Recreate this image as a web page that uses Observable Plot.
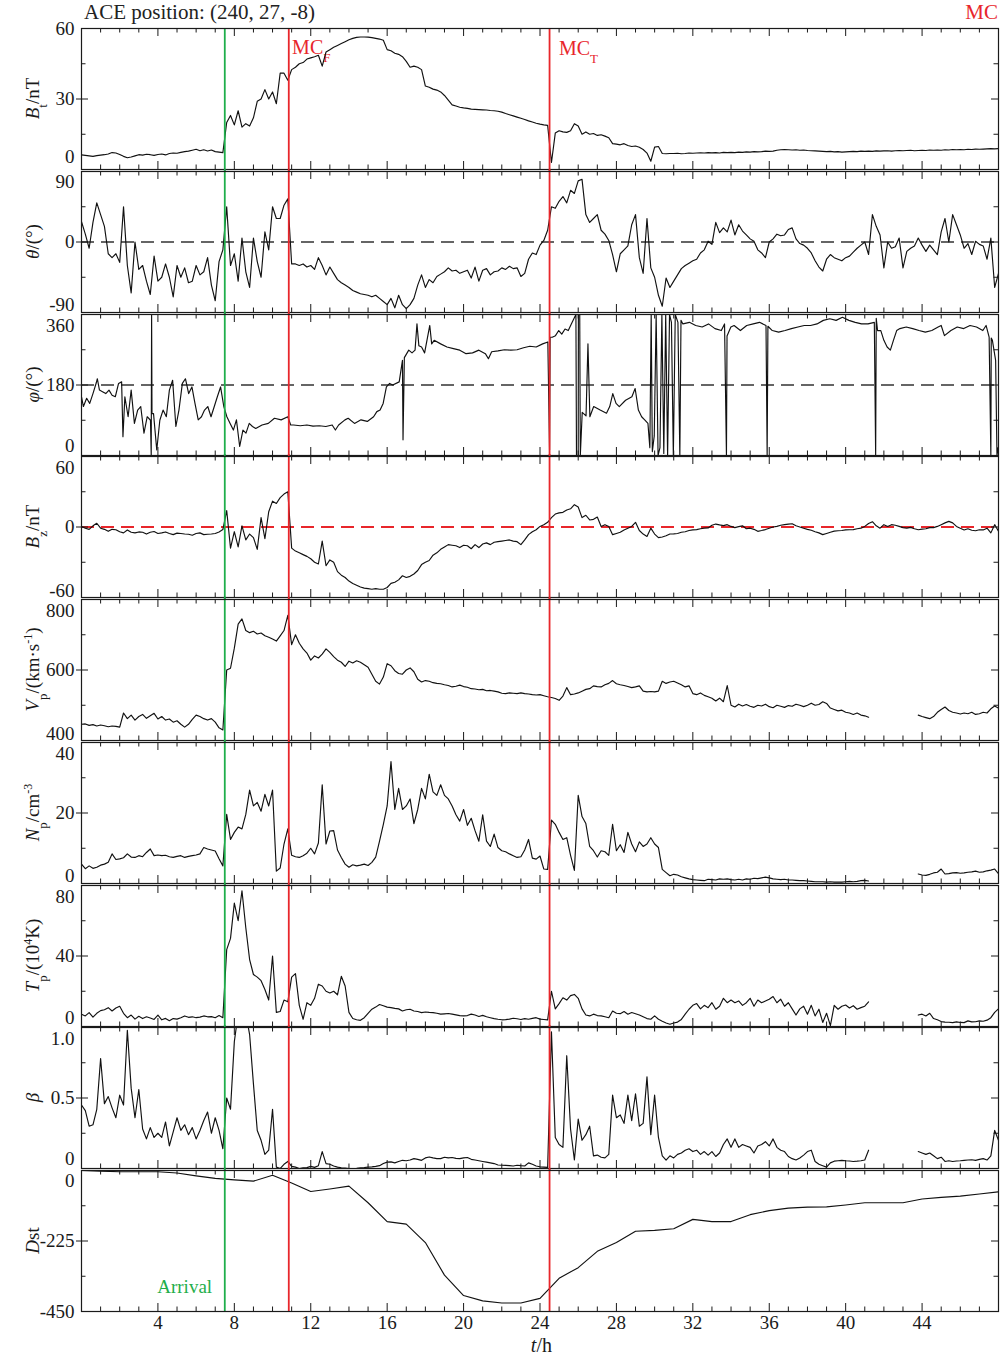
<!DOCTYPE html>
<html><head><meta charset="utf-8">
<script src="https://cdn.jsdelivr.net/npm/d3@7"></script>
<script src="https://cdn.jsdelivr.net/npm/@observablehq/plot@0.6"></script>
<style>
body{margin:0;background:#fff;}
#chart{position:relative;width:1000px;height:1361px;font-family:"Liberation Serif","Times New Roman",serif;color:#222;overflow:hidden;}
.hdr{position:absolute;top:0px;font-size:21px;line-height:24px;white-space:nowrap;}
</style></head><body><div id="chart"></div>
<script>
// ---------------- data (sampled every 0.2 h, t = 0 ... 48 h) ----------------
const SAMPLE_STEP_H = 0.2;
const btValues = [
6.2,6.0,5.8,5.6,5.9, 6.1,6.3,6.6,7.2,7.0, 6.4,5.6,5.0,5.3,5.8, 6.3,6.1,6.5,6.3,6.0,
6.4,6.6,6.2,6.8,7.0, 6.9,7.3,7.6,7.8,8.2, 8.6,8.0,8.4,7.9,8.3, 7.6,7.4,7.2,20,23,
19,25,18,19.5,18.5, 22,29,30,34,30, 33,28,41,41,38, 42.5,43.5,45,45.5,47,
47.5,48,48.6,44,50, 51,52,52.8,53.6,54.4, 55.2,55.8,56.2,56.4,56.4, 56.3,56.1,55.8,55.5,55,
51,50.5,49.5,49,48, 46,43.5,44,43.5,42.5, 35.5,35,34.2,33.8,33, 31.5,29.5,27.5,27,26.5,
26.2,26,25.7,25.6,25.5, 25.4,25.3,25.1,25,24.8, 24.4,23.8,23.3,22.8,22.3, 21.8,21.3,20.7,20.2,19.7,
19.3,19,18.8,3,15.5, 16.5,16,15.8,16.5,19.5, 18.5,15,16,15,15.3, 14.5,14.8,14.2,13.5,11,
10.8,10.5,11,10.2,9.8, 10,9.5,8.5,7,3.5, 9.5,9.8,6.8,6.7,6.8, 6.8,6.9,6.7,6.8,7.0,
6.9,7.0,7.1,7.0,7.2, 7.1,7.2,7.0,7.3,7.2, 7.3,7.2,7.4,7.3,7.5, 7.4,7.6,7.5,7.6,7.8,
7.7,7.8,8.2,8.4,8.5, 8.4,8.3,8.4,8.2,8.3, 8.1,8.0,7.9,7.8,7.7, 7.6,7.7,7.5,7.6,7.4,
7.5,7.6,7.7,7.6,7.8, 7.7,7.8,7.7,7.9,7.8, 7.9,8.0,7.8,8.0,8.1, 8.0,8.1,8.2,8.0,8.1,
8.2,8.1,8.3,8.2,8.3, 8.2,8.4,8.3,8.5,8.4, 8.5,8.4,8.6,8.5,8.7, 8.6,8.7,8.8,8.9,8.8,
8.9];
const thetaValues = [
26,10,-8,25,50, 35,20,-15,-20,-15, -26,45,-30,-65,0, -35,-30,-50,-67,-18,
-50,-45,-28,-45,-70, -30,-45,-33,-52,-50, -30,-42,-38,-20,-55, -75,-25,-10,45,-30,
-15,-50,5,-38,-58, 5,-25,-45,13,-10, 45,30,30,47,55, -28,-28,-30,-28,-32,
-30,-35,-20,-30,-42, -32,-40,-48,-52,-55, -58,-62,-64,-66,-67, -68,-70,-68,-72,-76,
-80,-72,-84,-68,-80, -85,-80,-72,-55,-42, -58,-48,-52,-44,-41, -38,-33,-37,-36,-40,
-38,-36,-46,-32,-50, -36,-34,-42,-38,-37, -33,-35,-31,-34,-33, -44,-40,-22,-14,-16,
-4,2,15,45,43, 52,58,50,66,62, 78,80,35,25,30, 35,15,10,2,-16,
-38,-15,-10,-5,22, 35,-20,-40,30,-33, -45,-68,-82,-46,-58, -50,-42,-34,-30,-27,
-24,-22,-14,-10,1, -3,25,12,18,13, 28,9,22,14,9, 4,1,-10,-14,-20,
0,4,10,8,9, 16,18,4,-2,-4, -8,-14,-24,-32,-37, -22,-16,-20,-22,-24,
-20,-18,-13,-8,-4, 0,-16,35,20,9, -33,0,-8,-6,5, -33,-12,-8,-5,5,
-4,-12,-4,-10,-16, 13,30,0,35,22, 9,-8,-2,-16,1, -3,-5,-22,5,-58,
-40];
// phi wraps between 0 and 360, so it keeps its own time stamps (h)
const phiTime = [0,0.1,0.27,0.43,0.6,0.77,0.83,0.94,1.1,1.27,1.44,1.6,1.77,1.94,2.1,2.17,2.27,2.44,2.6,2.77,2.94,3.1,3.27,3.44,3.61,3.65,3.67,3.69,3.77,3.94,4.1,4.27,4.44,4.6,4.77,4.94,5.1,5.28,5.44,5.61,5.78,5.94,6.11,6.28,6.44,6.61,6.78,6.95,7.11,7.28,7.45,7.61,7.78,7.95,8.11,8.28,8.45,8.61,8.78,8.95,9.12,9.45,9.78,10.1,10.45,10.8,10.95,11.1,11.45,11.8,12.12,12.45,12.79,13.12,13.29,13.46,13.79,13.96,14.29,14.63,14.96,15.29,15.46,15.63,15.79,15.96,16.13,16.29,16.63,16.8,16.83,16.9,17.13,17.3,17.46,17.56,17.66,17.8,17.96,18.23,18.33,18.46,18.8,19.13,19.47,19.8,20.13,20.47,20.8,21.14,21.3,21.47,21.8,22.14,22.47,22.8,23.14,23.47,23.8,24.14,24.41,24.5,24.53,24.64,24.81,24.98,25.14,25.31,25.48,25.64,25.81,25.88,25.91,26.0,26.01,26.08,26.11,26.21,26.41,26.51,26.61,26.81,27.15,27.48,27.65,27.81,27.98,28.15,28.48,28.81,28.98,29.15,29.32,29.48,29.65,29.75,29.82,29.88,29.98,30.08,30.18,30.28,30.38,30.48,30.58,30.68,30.78,30.88,30.98,31.08,31.22,31.32,31.38,31.48,31.82,32.15,32.49,32.82,33.16,33.49,33.66,33.76,33.79,33.99,34.16,34.49,34.82,35.16,35.49,35.83,35.89,35.93,36.16,36.49,36.83,37.16,37.5,37.83,38.16,38.5,38.83,39.17,39.5,39.83,40.17,40.5,40.83,41.17,41.5,41.57,41.6,41.67,41.84,42.0,42.17,42.34,42.5,42.67,42.84,43.17,43.51,43.84,44.17,44.51,44.84,45.0,45.17,45.51,45.84,46.18,46.51,46.85,47.18,47.35,47.51,47.6,47.62,47.68,47.85,47.92,47.98];
const phiValues = [150,125,146,133,158,185,196,167,163,158,167,154,150,184,188,48,150,99,167,82,116,125,57,99,90,0,360,107,107,14,90,116,99,167,192,74,116,184,196,158,175,133,91,99,116,125,99,125,150,175,125,99,82,65,91,23,65,57,82,74,69,78,82,95,91,99,78,78,76,78,75,76,74,78,65,78,91,95,82,91,87,99,112,116,133,175,184,180,188,243,40,250,269,262,269,336,280,277,262,332,285,294,285,277,273,269,260,262,269,260,247,265,267,270,269,270,275,279,277,285,290,14,302,302,306,319,310,323,319,336,353,360,0,0,360,360,0,110,101,285,99,125,116,108,125,158,133,125,141,150,171,116,99,91,82,20,360,10,50,360,0,20,360,5,360,0,360,340,0,360,340,0,345,336,340,332,328,336,324,319,336,0,305,328,332,319,332,336,340,332,0,330,319,315,319,324,328,332,332,336,345,349,345,353,345,340,336,336,340,0,350,319,319,294,277,269,294,319,324,328,324,319,315,319,328,332,306,319,328,324,332,328,319,332,302,0,300,294,243,0,20];
const bzValues = [
0.5,-1,-2,1,3.2, -1,-2,-3.7,-2,-2.3, -4,-5,-2.5,-4.5,-5, -4.2,-4.5,-6,-4.5,-3.8,
-5.5,-5,-4.2,-5.5,-6.5, -5.2,-5.5,-6,-6.2,-7, -5.5,-5,-6.5,-6.2,-6, -5.5,-4.2,-2.2,14,-18,
-4,-17,1,-11,-6, -9,-19,8,-10,13, 22,20,25,28,30, -18,-20.5,-22,-23.5,-25,
-27,-30,-31.5,-12,-33, -28,-30,-38,-41,-43, -46,-48,-49.5,-51,-52, -52.5,-53,-52.5,-53,-53,
-51.5,-48,-47,-45,-41.5, -43,-42,-40,-37,-32, -30,-28.5,-24,-22,-19, -17,-15,-15.5,-16,-17.5,
-15.5,-16,-18.5,-15,-17.5, -14.5,-13.5,-15,-13,-12.5, -12,-11.5,-11,-12,-12.5, -15,-11,-6.5,-4,-2.3,
0.5,2,4,8,11, 12,12.5,14.5,15.5,19, 17,8,10,6,6.5, 8.5,0.5,2,0.5,-6.5,
-5.5,-4.5,-2.5,-1,0.5, 4,-3,-6,-8,-1, -6,-9,-8.5,-7.5,-6, -5.8,-5.5,-4.5,-4,-3,
-2.5,-2.2,-1.5,-1,-0.8, 1.5,2.5,1.8,1.2,2, 0.5,-0.5,0.3,1,-1.5, -1,-2,-3.7,-3,-2.2,
-1,0,0.5,1.5,2, 2.5,2.8,1,0,-1, -2,-2.8,-4,-5,-6.5, -5.5,-4.5,-3.5,-3.2,-3,
-2.5,-2.3,-2.2,-1.5,-1, 0.5,3,4.5,1,-1, 2,0.5,2,1.5,0.5, -0.5,-1,-0.3,-1.5,-2.3,
-1.8,-1.5,-0.5,-0.5,0.5, 2,3.5,4.8,3.5,0.5, -1,-2.5,-1.5,-2.8,-3.2, -2.3,-2.5,-1,-5,2,
-3.5];
const vpValues = [
446,447,443,445,441, 444,442,439,441,440, 438,478,462,472,458, 468,474,463,470,477,
461,468,458,461,452, 456,446,438,446,460, 472,468,462,458,462, 452,436,430,600,605,
662,730,745,712,706, 710,702,705,697,693, 688,682,697,712,755, 672,700,676,660,648,
628,640,634,645,660, 650,638,628,622,610, 625,620,626,622,615, 608,588,568,560,580,
618,612,598,590,588, 600,606,595,574,566, 570,568,564,562,561, 558,556,552,554,557,
553,551,547,546,544, 545,541,542,540,538, 534,533,535,534,533, 535,533,532,530,529,
530,527,524,522,519, 514,526,550,530,532, 535,540,545,547,555, 553,552,558,562,570,
561,558,556,553,550, 552,555,540,538,539, 538,540,568,562,566, 568,563,558,552,555,
533,530,535,528,524, 520,512,520,510,556, 500,495,503,498,502, 497,494,500,498,503,
496,493,500,497,494, 499,497,503,500,496, 500,506,500,502,510, 505,492,488,484,486,
480,478,474,478,472, 470,466,null,null,null, null,null,null,null,null, null,null,null,null,472,
468,465,462,468,480, 488,495,485,480,478, 475,478,476,480,474, 476,480,478,490,498,
492];
const npValues = [
5.5,4.2,5.0,4.3,4.6, 5.2,5.5,6.0,8.4,6.8, 7.0,7.3,8.4,7.5,7.4, 7.9,7.6,8.8,9.8,7.9,
8.1,7.9,8.0,7.6,7.4, 7.7,7.9,7.4,7.7,7.9, 8.1,8.4,10.2,9.8,9.5, 9.2,7.0,5.0,19.6,12.5,
14.5,16,15.5,19.6,26.5, 22,23,20.5,25.3,22, 26.5,3.5,4.4,11.2,15.5, 8.0,7.6,7.4,7.9,8.6,
10,8.4,11.5,28,11.2, 14.9,15,9.5,7.4,5.5, 4.6,5.3,5.0,5.2,5.5, 5.1,6.0,7.5,12,16.8,
22,34.6,21,27,21, 22,24,17,21,27, 24,31,26,25,28, 25,24,22,19.5,17.7,
21,16.5,18.5,15,12, 19.5,12,10.5,14,10.2, 9.3,9.0,8.4,7.9,7.4, 7.6,9.5,12.5,7.2,6.9,
7.8,4.1,4.0,18,16.8, 14.5,12.5,13,8.0,3.7, 25,19,17,10.5,9.3, 7.5,9.3,9.0,8,16.8,
9.3,11,8.8,14.5,11.2, 9.0,11.8,10.5,11.2,13, 11.2,10.2,4,3.1,2.2, 2.6,2.4,1.9,1.6,1.3,
1.1,1.0,0.9,0.8,1.2, 1.1,1.0,1.3,1.2,1.3, 1.1,1.0,1.2,1.0,1.3, 1.2,1.5,1.4,1.6,1.8,
1.6,1.3,1.2,1.1,1.2, 1.0,1.0,0.9,0.8,0.8, 0.7,0.6,0.5,0.5,0.5, 0.4,0.5,0.4,0.4,0.4,
0.5,0.6,0.5,0.6,0.8, 0.9,0.7,null,null,null, null,null,null,null,null, null,null,null,null,2.7,
2.4,2.3,2.6,3.0,3.2, 4.1,2.7,2.8,3.0,3.1, 2.9,3.0,3.2,3.3,3.5, 3.2,3.3,3.6,3.8,4.1,
2.8];
const tpValues = [
7.0,6.0,7.9,5.3,7.5, 9.0,9.5,10.7,8.8,10.5, 11.5,7.5,5.0,6.5,4.2, 5.8,4.5,5.5,4.8,4.0,
6.5,3.8,4.6,3.3,4.5, 4.2,5.0,6.0,5.2,5.5, 5.0,5.3,6.0,5.5,5.6, 5.0,6.2,5.0,43.6,50,
70,60,77,56,38, 29.5,28,26,21,15, 40,8,8.5,15,14, 28,30,12,4.1,13.5,
12,16,24,23,20, 19,20,18,28.5,23, 8,4.5,3.8,3.5,5.0, 7.5,9.8,11,12.5,11.8,
11,10.7,10.3,10,8.8, 9.5,9.8,8.8,8.5,7.9, 8.2,8.0,7.9,7.5,7.0, 7.2,7.4,7.0,6.6,6.2,
6.0,6.2,7.0,6.5,5.7, 6.3,5.5,5.0,4.5,4.1, 3.8,3.9,4.2,4.7,4.4, 4.0,4.5,4.1,4.6,5.0,
4.2,4.0,3.8,20,10, 13,16.3,15,17.5,18.2, 16,10,6.5,6.0,7.0, 6.2,6.0,5.5,5.0,8.8,
7.5,7.3,8.5,7.0,7.9, 7.2,6.5,5.5,4.5,4.1, 6.0,4.1,3.0,2.0,1.3, 2.0,2.5,4.0,7.0,9.8,
12,13,10,12,10.7, 13.5,9.8,11.5,16,13.5, 15,13.5,14.5,12,13.5, 16,11.5,15,13.5,14.5,
15.5,17,13.5,15.5,11.5, 13.5,10,6.5,10,11.5, 7,12,6,9.8,2.3, 7.5,0.5,12,9.8,11.5,
12.2,10.5,11.8,9.8,10.7, 11.5,14,null,null,null, null,null,null,null,null, null,null,null,null,6.5,
7.0,6.0,7.5,4.5,3.8, 2.8,2.5,2.4,2.2,2.6, 2.3,2.2,3.2,2.6,2.7, 3.2,3.0,3.6,5,8,
10];
const betaValues = [
0.45,0.41,0.30,0.31,0.42, 0.78,0.46,0.51,0.43,0.36, 0.52,0.45,0.98,0.57,0.36, 0.56,0.28,0.21,0.29,0.22,
0.25,0.22,0.33,0.16,0.26, 0.36,0.27,0.31,0.24,0.29, 0.21,0.27,0.34,0.40,0.25, 0.36,0.27,0.14,0.50,0.42,
0.90,1.1,1.1,1.1,0.95, 0.6,0.27,0.2,0.1,0.13, 0.42,0.01,0.0,0.03,0.05, 0.015,0.01,0.0,0.005,0.006,
0.015,0.008,0.02,0.12,0.035, 0.03,0.018,0.01,0.005,0.003, 0.0,0.0,0.002,0.005,0.007, 0.01,0.012,0.015,0.02,0.035,
0.045,0.047,0.04,0.05,0.058, 0.055,0.06,0.07,0.065,0.058, 0.075,0.082,0.075,0.07,0.07, 0.08,0.075,0.078,0.072,0.07,
0.075,0.078,0.065,0.06,0.055, 0.05,0.045,0.04,0.035,0.025, 0.023,0.022,0.02,0.018,0.023, 0.02,0.018,0.04,0.03,0.018,
0.012,0.01,0.008,0.97,0.22, 0.17,0.15,0.8,0.28,0.06, 0.35,0.2,0.24,0.3,0.09, 0.095,0.08,0.075,0.1,0.52,
0.36,0.38,0.32,0.52,0.34, 0.53,0.3,0.32,0.65,0.24, 0.52,0.22,0.09,0.06,0.09, 0.075,0.1,0.11,0.13,0.14,
0.12,0.13,0.1,0.12,0.095, 0.12,0.085,0.11,0.17,0.21, 0.15,0.21,0.15,0.17,0.16, 0.15,0.11,0.16,0.17,0.19,
0.16,0.21,0.15,0.13,0.12, 0.085,0.07,0.06,0.075,0.095, 0.12,0.13,0.05,0.03,0.02, 0.01,0.04,0.052,0.055,0.058,
0.055,0.053,0.05,0.052,0.055, 0.06,0.13,null,null,null, null,null,null,null,null, null,null,null,null,0.12,
0.11,0.1,0.11,0.09,0.07, 0.08,0.05,0.055,0.05,0.053, 0.055,0.058,0.06,0.062,0.058, 0.065,0.07,0.06,0.09,0.27,
0.2];
// Dst is hourly (t = 0 ... 48 h)
const dstValues = [0,-2,-4,-4,-4,-8,-17,-25,-30,-34,-15,-40,-67,-59,-50,-103,-163,-171,-230,-334,-399,-416,-423,-423,-408,-344,-310,-258,-230,-194,-191,-186,-156,-163,-163,-141,-128,-120,-117,-116,-110,-103,-103,-103,-91,-86,-82,-75,-68];

// reference lines, events, ticks
const thetaRef = [0], phiRef = [180], bzRef = [0];
const arrivalTime = [7.5];
const mcBoundaryTimes = [10.85, 24.5];
const xTickLabels = [4, 8, 12, 16, 20, 24, 28, 32, 36, 40, 44];
const xMinorTicks = d3.range(1, 48).filter(h => h % 4 !== 0);
const btTicks = [0, 30, 60], thetaTicks = [-90, 0, 90], phiTicks = [0, 180, 360], bzTicks = [-60, 0, 60];
const vpTicks = [400, 600, 800], npTicks = [0, 20, 40], tpTicks = [0, 40, 80], betaTicks = [0, 0.5, 1.0], dstTicks = [-450, -225, 0];
const betaTickText = ["0", "0.5", "1.0"];

// ---------------- layout ----------------
const W = 1000, ML = 81, MR = 2, PLOT_W = W - ML - MR;
const FRAME_TOP = 28, PANEL_STEP = 142.75, FRAME_H = 141;
const GREEN = "#1fae4b", RED = "#e8262b", INK = "#1a1a1a";
const FONT = "'Liberation Serif','Times New Roman',serif";
const hours = d3.range(btValues.length).map(i => +(i * SAMPLE_STEP_H).toFixed(2));
const dstHours = d3.range(dstValues.length);

// nudge = [dy of top label, dy of bottom label]
const panelSpecs = [
  {values: btValues, domain: [0, 60], ticks: btTicks, major: [30], minor: [15, 45], nudge: [0, -13], label: [["B",1],["t",2],["/nT",0]]},
  {values: thetaValues, domain: [-90, 90], ticks: thetaTicks, major: [0], minor: [-45, 45], nudge: [10, -8], ref: thetaRef, refColor: "#333", refWidth: 1.4, label: [["θ",1],["/(°)",0]]},
  {values: phiValues, times: phiTime, domain: [0, 360], ticks: phiTicks, major: [180], minor: [90, 270], nudge: [11, -10], ref: phiRef, refColor: "#333", refWidth: 1.4, label: [["φ",1],["/(°)",0]]},
  {values: bzValues, domain: [-60, 60], ticks: bzTicks, major: [0], minor: [-30, 30], nudge: [11, -7], ref: bzRef, refColor: RED, refWidth: 1.8, label: [["B",1],["z",2],["/nT",0]]},
  {values: vpValues, domain: [400, 800], ticks: vpTicks, major: [600], minor: [500, 700], nudge: [11, -7], label: [["V",1],["p",2],["/(km·s",0],["-1",3],[")",0]]},
  {values: npValues, domain: [0, 40], ticks: npTicks, major: [20], minor: [10, 30], nudge: [11, -8], label: [["N",1],["p",2],["/cm",0],["-3",3]]},
  {values: tpValues, domain: [0, 80], ticks: tpTicks, major: [40], minor: [20, 60], nudge: [11, -9], label: [["T",1],["p",2],["/(10",0],["4",3],["K)",0]]},
  {values: betaValues, domain: [0, 1], ticks: betaTicks, tickText: betaTickText, major: [0.5], minor: [0.25, 0.75], nudge: [11, -10], label: [["β",1]]},
  {values: dstValues, times: dstHours, domain: [-450, 0], ticks: dstTicks, major: [-225], minor: [-337.5, -112.5], nudge: [10, 0], label: [["D",1],["st",0]]}
];

const chart = document.getElementById("chart");

function addRichText(svg, segments, attrs) {
  const t = d3.select(svg).append("text");
  Object.entries(attrs).forEach(([k, v]) => t.attr(k, v));
  segments.forEach(([s, kind]) => {
    const ts = t.append("tspan").text(s);
    if (kind === 1) ts.attr("font-style", "italic");
    if (kind === 2) ts.attr("baseline-shift", "sub").attr("font-size", 13);
    if (kind === 3) ts.attr("baseline-shift", "super").attr("font-size", 12);
  });
  return t;
}

panelSpecs.forEach((spec, i) => {
  const top = Math.round(FRAME_TOP + i * PANEL_STEP);
  const first = i === 0, last = i === panelSpecs.length - 1;
  const mt = 2, mb = last ? 50 : 2;
  const H = FRAME_H + mt + mb;
  const times = spec.times || hours;
  const data = spec.values.map((v, k) => ({t: times[k], v}));
  const tk = {stroke: INK, strokeWidth: 1};
  const fmt = spec.tickText ? (d => spec.tickText[spec.ticks.indexOf(d)]) : (d => String(d));
  const marks = [];
  if (spec.ref) marks.push(Plot.ruleY(spec.ref, {y: d => d, stroke: spec.refColor, strokeWidth: spec.refWidth, strokeDasharray: "13,7"}));
  marks.push(Plot.line(data, {x: "t", y: "v", stroke: "#111", strokeWidth: 1.15, clip: true}));
  marks.push(Plot.ruleX(arrivalTime, {x: d => d, stroke: GREEN, strokeWidth: 1.8, insetTop: first ? 0 : -2, insetBottom: last ? 0 : -2}));
  marks.push(Plot.ruleX(mcBoundaryTimes, {x: d => d, stroke: RED, strokeWidth: 1.8, insetTop: first ? 0 : -2, insetBottom: last ? 0 : -2}));
  // inner x ticks (top and bottom)
  marks.push(Plot.ruleX(xMinorTicks, {x: d => d, insetBottom: FRAME_H - 4.5, ...tk}));
  marks.push(Plot.ruleX(xMinorTicks, {x: d => d, insetTop: FRAME_H - 4.5, ...tk}));
  marks.push(Plot.ruleX(xTickLabels, {x: d => d, insetBottom: FRAME_H - 8, ...tk}));
  marks.push(Plot.ruleX(xTickLabels, {x: d => d, insetTop: FRAME_H - 8, ...tk}));
  // y ticks (left and right)
  marks.push(Plot.ruleY(spec.major, {y: d => d, insetLeft: -5, insetRight: PLOT_W - 7, ...tk}));
  marks.push(Plot.ruleY(spec.major, {y: d => d, insetLeft: PLOT_W - 7, ...tk}));
  marks.push(Plot.ruleY(spec.minor, {y: d => d, insetRight: PLOT_W - 4.5, ...tk}));
  marks.push(Plot.ruleY(spec.minor, {y: d => d, insetLeft: PLOT_W - 4.5, ...tk}));
  marks.push(Plot.frame({stroke: INK, strokeWidth: 1.2}));
  // y tick labels: bottom, middle, top (end labels nudged inward)
  const yLabel = (vals, dy) => Plot.text(vals, {y: d => d, text: fmt, frameAnchor: "left", textAnchor: "end", dx: -7, dy, fill: INK});
  const sorted = spec.ticks.slice().sort((a, b) => a - b);
  marks.push(yLabel([sorted[0]], spec.nudge[1]));
  marks.push(yLabel([sorted[1]], 0));
  marks.push(yLabel([sorted[2]], spec.nudge[0]));
  if (last) {
    marks.push(Plot.text(xTickLabels, {x: d => d, text: d => String(d), frameAnchor: "bottom", dy: 17, fill: INK}));
    marks.push(Plot.text(["Arrival"], {x: 5.4, y: -372, text: d => d, fill: GREEN, textAnchor: "middle"}));
  }
  const svg = Plot.plot({
    width: W, height: H, marginLeft: ML, marginRight: MR, marginTop: mt, marginBottom: mb,
    x: {domain: [0, 48], axis: null},
    y: {domain: spec.domain, axis: null},
    style: {fontFamily: FONT, fontSize: "19px", overflow: "visible", background: "transparent", color: INK},
    marks
  });
  svg.style.position = "absolute";
  svg.style.left = "0px";
  svg.style.top = (top - mt) + "px";
  chart.appendChild(svg);
  // rotated panel title
  addRichText(svg, spec.label, {transform: `translate(39,${mt + FRAME_H / 2}) rotate(-90)`, "text-anchor": "middle", "font-size": 19, "font-family": FONT, fill: INK});
  const sx = svg.scale("x"), sy = svg.scale("y");
  if (first) {
    const a = addRichText(svg, [["MC",0],["F",2]], {x: sx.apply(11.05), y: sy.apply(48.8), "text-anchor": "start", "font-size": 20, "font-family": FONT, fill: RED});
    const b = addRichText(svg, [["MC",0],["T",2]], {x: sx.apply(25.02), y: sy.apply(48.4), "text-anchor": "start", "font-size": 20, "font-family": FONT, fill: RED});
    svg.insertBefore(a.node(), svg.firstChild);
    svg.insertBefore(b.node(), svg.firstChild);
  }
  if (last) {
    addRichText(svg, [["t",1],["/h",0]], {x: sx.apply(24.1), y: mt + FRAME_H + 41, "text-anchor": "middle", "font-size": 20, "font-family": FONT, fill: INK});
  }
});

// header texts
const h1 = document.createElement("div");
h1.className = "hdr"; h1.style.left = "84px"; h1.textContent = "ACE position: (240, 27, -8)";
chart.appendChild(h1);
const h2 = document.createElement("div");
h2.className = "hdr"; h2.style.right = "2px"; h2.style.color = RED; h2.textContent = "MC";
chart.appendChild(h2);
</script></body></html>
